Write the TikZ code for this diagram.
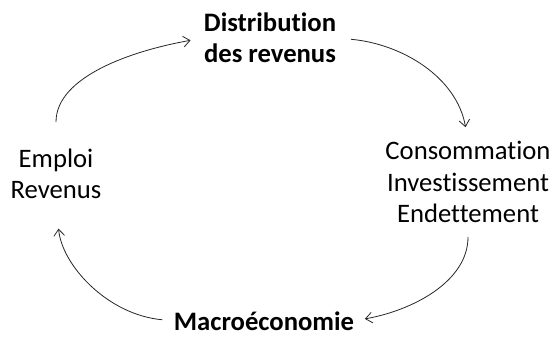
\documentclass[tikz,border=0pt]{standalone}
\usepackage{fontspec}
\setmainfont{Carlito}[Ligatures={NoCommon}, RawFeature={-calt}]
\usetikzlibrary{arrows.meta}

\tikzset{
    label/.style={align=center, inner sep=0pt, font=\fontsize{20}{23.6}\selectfont},
    boldlabel/.style={label, font=\fontsize{20}{23.6}\selectfont\bfseries},
    flow/.style={draw=black!85, line width=0.6pt, -{Straight Barb[length=5pt, width=8pt]}}
}

\begin{document}
\begin{tikzpicture}[x=0.75pt, y=-0.75pt]
\useasboundingbox (0,0) rectangle (557,336);

\node[boldlabel] (distrib) at (270,38) {Distribution\\des revenus};
\node[label] (emploi) at (56,174) {Emploi\\Revenus};
\node[label] (conso) at (468,182) {Consommation\\Investissement\\Endettement};
\node[boldlabel, anchor=base] (macro) at (264,330) {Macroéconomie};

\draw[flow, shorten <=20pt, shorten >=10pt] (emploi.north) to[out=90, in=190] (distrib.west);
\draw[flow, shorten <=11pt, shorten >=10.5pt] (distrib.east) to[out=-5, in=100] (conso.north);
\draw[flow, shorten <=10.5pt, shorten >=8pt] (conso.south) to[out=-90, in=10] (macro.east);
\draw[flow, shorten <=8.5pt, shorten >=22pt] (macro.west) to[out=175, in=-85] (emploi.south);

\end{tikzpicture}
\end{document}
